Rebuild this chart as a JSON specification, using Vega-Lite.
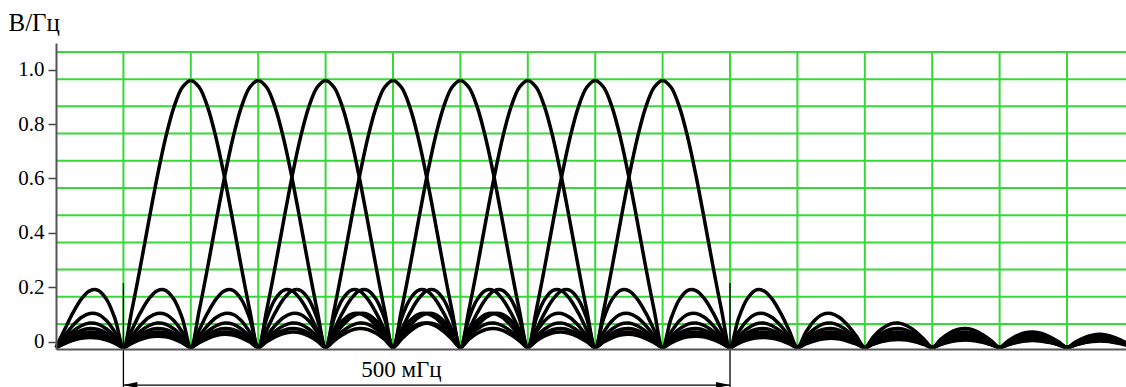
{
  "$schema": "https://vega.github.io/schema/vega-lite/v6.json",
  "width": 1070,
  "height": 306,
  "autosize": {"type": "none"},
  "padding": {"left": 56, "top": 43, "right": 0, "bottom": 38},
  "background": "white",
  "config": {"view": {"stroke": null}, "font": "Liberation Serif"},
  "layer": [
    {
      "data": {"values": [{"v": 0.0876}, {"v": 0.1895}, {"v": 0.2914}, {"v": 0.3933}, {"v": 0.4952}, {"v": 0.5971}, {"v": 0.699}, {"v": 0.8009}, {"v": 0.9028}, {"v": 1.0047}, {"v": 1.1066}]},
      "mark": {"type": "rule", "color": "#36d936", "strokeWidth": 2},
      "encoding": {
        "y": {"field": "v", "type": "quantitative"}
      }
    },
    {
      "data": {"values": [{"f": 8}, {"f": 16}, {"f": 24}, {"f": 32}, {"f": 40}, {"f": 48}, {"f": 56}, {"f": 64}, {"f": 72}, {"f": 80}, {"f": 88}, {"f": 96}, {"f": 104}, {"f": 112}, {"f": 120}]},
      "mark": {"type": "rule", "color": "#36d936", "strokeWidth": 2},
      "encoding": {
        "x": {"field": "f", "type": "quantitative"},
        "y": {"datum": -0.006, "type": "quantitative"},
        "y2": {"datum": 1.1066}
      }
    },
    {
      "data": {
        "values": "f,c2,c3,c4,c5,c6,c7,c8,c9\n0,0,0,0,0,0,0,0,0\n1,.065,.042,.031,.025,.021,.018,.015,.014\n2,.129,.082,.060,.047,.039,.033,.029,.026\n3,.181,.112,.081,.064,.052,.044,.039,.034\n4,.212,.127,.091,.071,.058,.049,.042,.037\n5,.214,.124,.087,.067,.055,.046,.040,.035\n6,.180,.100,.069,.053,.043,.036,.031,.027\n7,.108,.057,.039,.030,.024,.020,.017,.015\n8,0,0,0,0,0,0,0,0\n9,.139,.065,.042,.031,.025,.021,.018,.015\n10,.300,.129,.082,.060,.047,.039,.033,.029\n11,.471,.181,.112,.081,.064,.052,.044,.039\n12,.637,.212,.127,.091,.071,.058,.049,.042\n13,.784,.214,.124,.087,.067,.055,.046,.040\n14,.900,.180,.100,.069,.053,.043,.036,.031\n15,.974,.108,.057,.039,.030,.024,.020,.017\n16,1,0,0,0,0,0,0,0\n17,.974,.139,.065,.042,.031,.025,.021,.018\n18,.900,.300,.129,.082,.060,.047,.039,.033\n19,.784,.471,.181,.112,.081,.064,.052,.044\n20,.637,.637,.212,.127,.091,.071,.058,.049\n21,.471,.784,.214,.124,.087,.067,.055,.046\n22,.300,.900,.180,.100,.069,.053,.043,.036\n23,.139,.974,.108,.057,.039,.030,.024,.020\n24,0,1,0,0,0,0,0,0\n25,.108,.974,.139,.065,.042,.031,.025,.021\n26,.180,.900,.300,.129,.082,.060,.047,.039\n27,.214,.784,.471,.181,.112,.081,.064,.052\n28,.212,.637,.637,.212,.127,.091,.071,.058\n29,.181,.471,.784,.214,.124,.087,.067,.055\n30,.129,.300,.900,.180,.100,.069,.053,.043\n31,.065,.139,.974,.108,.057,.039,.030,.024\n32,0,0,1,0,0,0,0,0\n33,.057,.108,.974,.139,.065,.042,.031,.025\n34,.100,.180,.900,.300,.129,.082,.060,.047\n35,.124,.214,.784,.471,.181,.112,.081,.064\n36,.127,.212,.637,.637,.212,.127,.091,.071\n37,.112,.181,.471,.784,.214,.124,.087,.067\n38,.082,.129,.300,.900,.180,.100,.069,.053\n39,.042,.065,.139,.974,.108,.057,.039,.030\n40,0,0,0,1,0,0,0,0\n41,.039,.057,.108,.974,.139,.065,.042,.031\n42,.069,.100,.180,.900,.300,.129,.082,.060\n43,.087,.124,.214,.784,.471,.181,.112,.081\n44,.091,.127,.212,.637,.637,.212,.127,.091\n45,.081,.112,.181,.471,.784,.214,.124,.087\n46,.060,.082,.129,.300,.900,.180,.100,.069\n47,.031,.042,.065,.139,.974,.108,.057,.039\n48,0,0,0,0,1,0,0,0\n49,.030,.039,.057,.108,.974,.139,.065,.042\n50,.053,.069,.100,.180,.900,.300,.129,.082\n51,.067,.087,.124,.214,.784,.471,.181,.112\n52,.071,.091,.127,.212,.637,.637,.212,.127\n53,.064,.081,.112,.181,.471,.784,.214,.124\n54,.047,.060,.082,.129,.300,.900,.180,.100\n55,.025,.031,.042,.065,.139,.974,.108,.057\n56,0,0,0,0,0,1,0,0\n57,.024,.030,.039,.057,.108,.974,.139,.065\n58,.043,.053,.069,.100,.180,.900,.300,.129\n59,.055,.067,.087,.124,.214,.784,.471,.181\n60,.058,.071,.091,.127,.212,.637,.637,.212\n61,.052,.064,.081,.112,.181,.471,.784,.214\n62,.039,.047,.060,.082,.129,.300,.900,.180\n63,.021,.025,.031,.042,.065,.139,.974,.108\n64,0,0,0,0,0,0,1,0\n65,.020,.024,.030,.039,.057,.108,.974,.139\n66,.036,.043,.053,.069,.100,.180,.900,.300\n67,.046,.055,.067,.087,.124,.214,.784,.471\n68,.049,.058,.071,.091,.127,.212,.637,.637\n69,.044,.052,.064,.081,.112,.181,.471,.784\n70,.033,.039,.047,.060,.082,.129,.300,.900\n71,.018,.021,.025,.031,.042,.065,.139,.974\n72,0,0,0,0,0,0,0,1\n73,.017,.020,.024,.030,.039,.057,.108,.974\n74,.031,.036,.043,.053,.069,.100,.180,.900\n75,.040,.046,.055,.067,.087,.124,.214,.784\n76,.042,.049,.058,.071,.091,.127,.212,.637\n77,.039,.044,.052,.064,.081,.112,.181,.471\n78,.029,.033,.039,.047,.060,.082,.129,.300\n79,.015,.018,.021,.025,.031,.042,.065,.139\n80,0,0,0,0,0,0,0,0\n81,.015,.017,.020,.024,.030,.039,.057,.108\n82,.027,.031,.036,.043,.053,.069,.100,.180\n83,.035,.040,.046,.055,.067,.087,.124,.214\n84,.037,.042,.049,.058,.071,.091,.127,.212\n85,.034,.039,.044,.052,.064,.081,.112,.181\n86,.026,.029,.033,.039,.047,.060,.082,.129\n87,.014,.015,.018,.021,.025,.031,.042,.065\n88,0,0,0,0,0,0,0,0\n89,.013,.015,.017,.020,.024,.030,.039,.057\n90,.024,.027,.031,.036,.043,.053,.069,.100\n91,.031,.035,.040,.046,.055,.067,.087,.124\n92,.034,.037,.042,.049,.058,.071,.091,.127\n93,.031,.034,.039,.044,.052,.064,.081,.112\n94,.023,.026,.029,.033,.039,.047,.060,.082\n95,.012,.014,.015,.018,.021,.025,.031,.042\n96,0,0,0,0,0,0,0,0\n97,.012,.013,.015,.017,.020,.024,.030,.039\n98,.022,.024,.027,.031,.036,.043,.053,.069\n99,.028,.031,.035,.040,.046,.055,.067,.087\n100,.030,.034,.037,.042,.049,.058,.071,.091\n101,.028,.031,.034,.039,.044,.052,.064,.081\n102,.021,.023,.026,.029,.033,.039,.047,.060\n103,.011,.012,.014,.015,.018,.021,.025,.031\n104,0,0,0,0,0,0,0,0\n105,.011,.012,.013,.015,.017,.020,.024,.030\n106,.020,.022,.024,.027,.031,.036,.043,.053\n107,.026,.028,.031,.035,.040,.046,.055,.067\n108,.028,.030,.034,.037,.042,.049,.058,.071\n109,.025,.028,.031,.034,.039,.044,.052,.064\n110,.019,.021,.023,.026,.029,.033,.039,.047\n111,.010,.011,.012,.014,.015,.018,.021,.025\n112,0,0,0,0,0,0,0,0\n113,.010,.011,.012,.013,.015,.017,.020,.024\n114,.018,.020,.022,.024,.027,.031,.036,.043\n115,.024,.026,.028,.031,.035,.040,.046,.055\n116,.026,.028,.030,.034,.037,.042,.049,.058\n117,.023,.025,.028,.031,.034,.039,.044,.052\n118,.018,.019,.021,.023,.026,.029,.033,.039\n119,.010,.010,.011,.012,.014,.015,.018,.021\n120,0,0,0,0,0,0,0,0\n121,.009,.010,.011,.012,.013,.015,.017,.020\n122,.017,.018,.020,.022,.024,.027,.031,.036\n123,.022,.024,.026,.028,.031,.035,.040,.046\n124,.024,.026,.028,.030,.034,.037,.042,.049\n125,.022,.023,.025,.028,.031,.034,.039,.044\n126,.016,.018,.019,.021,.023,.026,.029,.033\n127,.009,.010,.010,.011,.012,.014,.015,.018",
        "format": {"type": "csv", "parse": {"f": "number", "c2": "number", "c3": "number", "c4": "number", "c5": "number", "c6": "number", "c7": "number", "c8": "number", "c9": "number"}}
      },
      "transform": [{"fold": ["c2", "c3", "c4", "c5", "c6", "c7", "c8", "c9"], "as": ["curve", "v"]}],
      "mark": {"type": "line", "color": "black", "strokeWidth": 3.5, "interpolate": "catmull-rom"},
      "encoding": {
        "x": {
          "field": "f", "type": "quantitative",
          "scale": {"domain": [0, 127], "nice": false, "zero": false},
          "axis": {"title": null, "labels": false, "ticks": false, "grid": false, "domainColor": "#555555", "domainWidth": 2, "zindex": 3}
        },
        "y": {
          "field": "v", "type": "quantitative",
          "scale": {"domain": [-0.006, 1.14], "nice": false, "zero": false},
          "axis": {
            "title": "В/Гц", "titleAngle": 0, "titleAlign": "left", "titleBaseline": "alphabetic",
            "titleX": -48, "titleY": -13, "titleFont": "Liberation Serif", "titleFontSize": 25,
            "titleFontWeight": "normal", "titleColor": "black",
            "values": [0.0213, 0.1232, 0.2251, 0.327, 0.4289, 0.5308, 0.6327, 0.7346, 0.8365, 0.9384, 1.0403, 1.1395],
            "labelExpr": "(round((datum.value-0.0213)/0.1019) % 2 == 0 && datum.value < 1.1) ? (round((datum.value-0.0213)/0.1019) == 0 ? '0' : format(round((datum.value-0.0213)/0.1019)/10, '.1f') + '\u2008') : ''",
            "labelOverlap": false, "labelFlush": false, "labelBound": false,
            "labelFont": "Liberation Serif", "labelFontSize": 21, "labelColor": "black",
            "labelPadding": 4,
            "grid": false, "tickSize": 8, "tickWidth": 1.5, "tickColor": "#444444",
            "domainColor": "#555555", "domainWidth": 2, "zindex": 3
          }
        },
        "detail": {"field": "curve", "type": "nominal"}
      }
    },
    {
      "data": {"values": [{"f": 8}, {"f": 80}]},
      "mark": {"type": "rule", "color": "black", "strokeWidth": 1.3},
      "encoding": {
        "x": {"field": "f", "type": "quantitative"},
        "y": {"datum": 0.241, "type": "quantitative"},
        "y2": {"datum": -0.15}
      }
    },
    {
      "data": {"values": [{"span": "500 мГц"}]},
      "layer": [
        {
          "mark": {"type": "rule", "color": "black", "strokeWidth": 1.3},
          "encoding": {
            "x": {"datum": 8, "type": "quantitative"},
            "x2": {"datum": 80},
            "y": {"datum": -0.141, "type": "quantitative"}
          }
        },
        {
          "mark": {"type": "point", "shape": "M0,0L-2,-0.43L-2,0.43Z", "filled": true, "color": "black", "opacity": 1, "size": 196, "angle": 180},
          "encoding": {
            "x": {"datum": 8, "type": "quantitative"},
            "y": {"datum": -0.141, "type": "quantitative"}
          }
        },
        {
          "mark": {"type": "point", "shape": "M0,0L-2,-0.43L-2,0.43Z", "filled": true, "color": "black", "opacity": 1, "size": 196},
          "encoding": {
            "x": {"datum": 80, "type": "quantitative"},
            "y": {"datum": -0.141, "type": "quantitative"}
          }
        },
        {
          "mark": {"type": "text", "font": "Liberation Serif", "fontSize": 23, "color": "black", "align": "center", "baseline": "alphabetic"},
          "encoding": {
            "text": {"field": "span", "type": "nominal"},
            "x": {"datum": 41, "type": "quantitative"},
            "y": {"datum": -0.111, "type": "quantitative"}
          }
        }
      ]
    }
  ]
}
